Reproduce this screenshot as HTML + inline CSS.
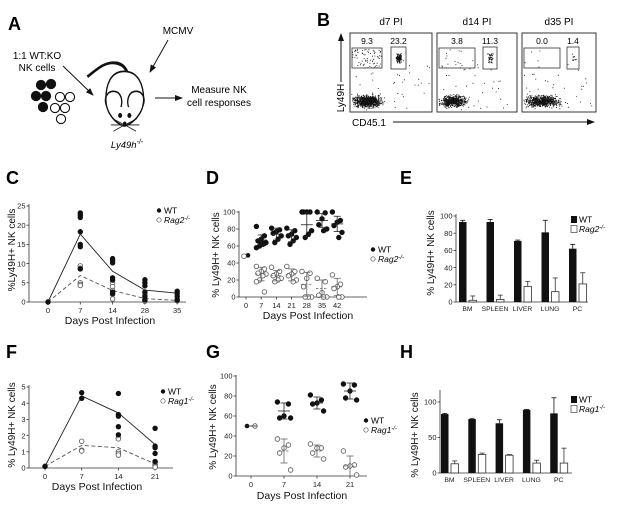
<!DOCTYPE html>
<html><head><meta charset="utf-8"><style>
html,body{margin:0;padding:0;background:#fff;}
svg{display:block;font-family:"Liberation Sans",Arial,sans-serif;}
</style></head><body>
<svg id="fig" width="617" height="511" viewBox="0 0 617 511" xmlns="http://www.w3.org/2000/svg">
<defs><marker id="ah" markerWidth="8" markerHeight="8" refX="7" refY="4" orient="auto" markerUnits="userSpaceOnUse"><path d="M0,1 L8,4 L0,7 Z" fill="#111"/></marker></defs>
<!-- Panel A -->
<g>
<text x="8" y="30" font-size="18" font-weight="bold">A</text>
<text x="178" y="34" font-size="10" text-anchor="middle">MCMV</text>
<line x1="168" y1="40" x2="150" y2="72" stroke="#111" stroke-width="1" marker-end="url(#ah)"/>
<text x="37" y="59" font-size="10" text-anchor="middle">1:1 WT:KO</text>
<text x="37" y="71" font-size="10" text-anchor="middle">NK cells</text>
<line x1="63" y1="66" x2="93" y2="95" stroke="#111" stroke-width="1" marker-end="url(#ah)"/>
<g stroke="#111" stroke-width="1.1">
<circle cx="41" cy="85" r="4.6" fill="#111"/><circle cx="51" cy="84" r="4.6" fill="#111"/><circle cx="36" cy="96" r="4.6" fill="#111"/><circle cx="46" cy="96" r="4.6" fill="#111"/><circle cx="43" cy="107" r="4.6" fill="#111"/>
<circle cx="60" cy="97" r="4.6" fill="#fff"/><circle cx="70" cy="97" r="4.6" fill="#fff"/><circle cx="55" cy="108" r="4.6" fill="#fff"/><circle cx="65" cy="108" r="4.6" fill="#fff"/><circle cx="61" cy="119" r="4.6" fill="#fff"/>
</g>
<g fill="none" stroke="#111" stroke-width="1.6" transform="matrix(0.84,0,0,1.05,0,0)">
<path d="M104,73 C115,66 125,58 138,60 C146,61 150,65 152,70" stroke-width="3"/>
<path d="M104,71 C115,64 125,57 138,58" stroke="#fff" stroke-width="0.8"/>
<path d="M148,68 C132,68 126,80 126,95 C126,108 138,118 148,120 C158,118 171,108 171,95 C171,80 164,68 148,68 Z" fill="#fff"/>
<path d="M127,101 C122,92 130,84 140,88 C145,91 146,97 144,102"/>
<path d="M170,101 C175,92 167,84 157,88 C152,91 151,97 153,102"/>
<circle cx="143" cy="110" r="1.6" fill="#111"/><circle cx="154" cy="110" r="1.6" fill="#111"/>
<circle cx="148.5" cy="118" r="1.5" fill="#111"/>
<path d="M146,118 L134,113 M146,119 L132,119 M146,120 L135,125 M151,118 L163,113 M151,119 L166,119 M151,120 L162,125" stroke-width="0.8"/>
</g>
<text x="127" y="148" font-size="9.5" font-style="italic" text-anchor="middle">Ly49h<tspan font-size="7" dy="-4">-/-</tspan></text>
<line x1="155" y1="98" x2="182" y2="98" stroke="#111" stroke-width="1" marker-end="url(#ah)"/>
<text x="219" y="93" font-size="10" text-anchor="middle">Measure NK</text>
<text x="219" y="106" font-size="10" text-anchor="middle">cell responses</text>
</g>
<!-- Panel B -->
<g id="panelB">
<text x="317" y="26" font-size="18" font-weight="bold">B</text>
<line x1="341" y1="82" x2="341" y2="34" stroke="#111" stroke-width="1" marker-end="url(#ah)"/>
<text transform="translate(344,98) rotate(-90)" font-size="10" text-anchor="middle">Ly49H</text>
<text x="352" y="126" font-size="10">CD45.1</text>
<line x1="393" y1="122" x2="594" y2="122" stroke="#111" stroke-width="1" marker-end="url(#ah)"/>
</g>
<g id="charts"></g>
</svg>
<script>
// ---------- Panel C data ----------
const cDays = ["0","7","14","28","35"];
const cWT = [[0],[23.2,22.6,22,18.3,15,14.4,8.6],[11.3,10.8,10.2,6.3,5.7,2.6,2.2],[5.8,5,4.2,2.6,1.5,0.5],[2.8,2.2,1.5,0.5]];
const cKO = [[0],[9.4,8.8,5,4.6,4.3],[5,4,3,2,0.8],[2,1,0.5,0.2],[0.8,0.3]];
const cWTmean = [0,17.7,8,3.1,2.3];
const cKOmean = [0,6.9,3,0.9,0.4];
const cYTicks = [0,5,10,15,20,25];
// ---------- Panel D data ----------
const dDays = ["0","7","14","21","28","35","42"];
const dWT = [[49],[83,72,68,66,64,62,60,58,63,65],[81,79,77,75,72,68,64],[81,78,74,72,70,66,62],[100,100,100,100,78,74,70],[100,99,92,85,80,78],[100,90,88,84,76,70]];
const dKO = [[48],[36,33,30,28,27,25,20,18,6],[35,30,27,25,22,20,18],[36,30,27,25,20,18],[30,28,22,12,0,0,0],[22,18,5,2,0,0],[26,15,12,10,0,0]];
const dWTmean = [null,67,74,72,85,90,86];
const dWTsd = [0,6,7,7,14,8,9];
const dKOmean = [null,27,25,26,15,10,12];
const dKOsd = [0,8,6,7,14,10,10];
const dYTicks = [0,20,40,60,80,100];
// ---------- Panel E data ----------
const eTissues = ["BM","SPLEEN","LIVER","LUNG","PC"];
const eWT = [93,93,71,81,62];
const eWTerr = [2,3,1,14,5];
const eKO = [2,3,18,12,21];
const eKOerr = [5,5,6,16,13];
const eYTicks = [0,20,40,60,80,100];
// ---------- Panel F data ----------
const fDays = ["0","7","14","21"];
const fWT = [[0.1],[4.65,4.3],[4.6,3.3,3.2,2.55,2.05],[2.45,1.35,1.25,0.9,0.4]];
const fKO = [[0.1],[1.65,1.1,1.05],[1.85,1.8,1.0,0.9,0.8],[0.4,0.35,0.2,0.1,0.05]];
const fWTmean = [0.1,4.45,3.4,1.45];
const fKOmean = [0.1,1.4,1.25,0.25];
const fYTicks = [0,1,2,3,4,5];
// ---------- Panel G data ----------
const gDays = ["0","7","14","21"];
const gWT = [[50],[74,72,60,58,58],[81,76,73,72,65],[92,91,85,78,76]];
const gKO = [[50],[37,31,28,23,6],[32,28,28,23,17],[25,11,10,9,1]];
const gWTmean = [50,65,73,85];
const gWTsd = [0,8,6,8];
const gKOmean = [null,25,25,10];
const gKOsd = [0,12,6,10];
const gYTicks = [0,20,40,60,80,100];
// ---------- Panel H data ----------
const hTissues = ["BM","SPLEEN","LIVER","LUNG","PC"];
const hWT = [83,76,70,89,84];
const hWTerr = [1,0.5,5,0.5,22];
const hKO = [13,26,25,14,14];
const hKOerr = [4,2,1,4,21];
const hYTicks = [0,50,100];

const NS="http://www.w3.org/2000/svg";
const root=document.getElementById('charts');
function mk(tag,attrs,parent,txt){const e=document.createElementNS(NS,tag);for(const k in attrs)e.setAttribute(k,attrs[k]);if(txt!==undefined)e.textContent=txt;(parent||root).appendChild(e);return e;}
function scaleY(y0px,ytop,vmax){return v=>y0px-(v/vmax)*(y0px-ytop);}

function axes(g,o){
  const ya=mk('line',{x1:o.ax,y1:o.y0,x2:o.ax,y2:o.yEnd,stroke:'#333','stroke-width':0.8},g);
  
  
  o.yTicks.forEach(t=>{const y=o.sy(t);
    mk('line',{x1:o.ax-2.5,y1:y,x2:o.ax,y2:y,stroke:'#333','stroke-width':0.8},g);
    const tl=mk('text',{x:o.ax-3.5,y:y+2.7,'font-size':7.5,'text-anchor':'end',fill:'#222'},g,String(t));
    
    });
  const xa=mk('line',{x1:o.ax,y1:o.y0,x2:o.xEnd,y2:o.y0,stroke:'#333','stroke-width':0.8},g);
  
  
  o.cats.forEach((c,i)=>{const x=o.sx(i);
    if(o.xTickMarks) mk('line',{x1:x,y1:o.y0,x2:x,y2:o.y0+2.5,stroke:'#333','stroke-width':0.8},g);
    const tl=mk('text',{x:x,y:o.y0+(o.xLabOff||11),'font-size':o.xFont||7.5,'text-anchor':'middle',fill:'#222'},g,c);
    
    });
  const yt=mk('text',{transform:`translate(${o.ytx},${o.yty}) rotate(-90)`,'font-size':10,'text-anchor':'middle',fill:'#111'},g,o.yTitle);
  
  
  if(o.xTitle){const xt=mk('text',{x:o.xtx,y:o.xty,'font-size':10.5,'text-anchor':'middle',fill:'#111'},g,o.xTitle);
    
    }
}
function panelLabel(x,y,t){const e=mk('text',{x:x,y:y,'font-size':18,'font-weight':'bold'},root,t);
  
  }
function legend(g,x,y,ko,type){
  const l1=mk('g',{},g);
  
  
  const l2=mk('g',{},g);
  
  
  if(type==='bar'){mk('rect',{x:x-3,y:y-6,width:6,height:7,fill:'#111'},l1);mk('rect',{x:x-3,y:y+3.5,width:6,height:7,fill:'#fff',stroke:'#444','stroke-width':0.7},l2);}
  else{mk('circle',{cx:x,cy:y-2.5,r:2.2,fill:'#111'},l1);mk('circle',{cx:x,cy:y+7,r:2.2,fill:'#fff',stroke:'#555','stroke-width':0.7},l2);}
  mk('text',{x:x+5,y:y+0.5,'font-size':8.5},l1,'WT');
  const t=mk('text',{x:x+5,y:y+10,'font-size':8.5,'font-style':'italic'},l2,ko);
  mk('tspan',{'font-size':6,dy:-3},t,'-/-');
}
function dots(g,groups,sx,sy,filled,jit,name){
  groups.forEach((arr,i)=>arr.forEach((v,j)=>{
    const off=jit?(((j*5)%7)-3)*jit:0;
    const c=mk('circle',{cx:sx(i)+off,cy:sy(v),r:2.3,fill:filled?'#111':'#fff',stroke:filled?'#111':'#555','stroke-width':0.8},g);
    
    }));
}
function meanLine(g,means,sx,sy,dash,name){
  const pts=means.map((m,i)=>sx(i)+','+sy(m)).join(' ');
  const p=mk('polyline',{points:pts,fill:'none',stroke:dash?'#555':'#222','stroke-width':0.9,'stroke-dasharray':dash?'4,2.5':'none'},g);
  
  
}
function meanSd(g,means,sds,sx,sy,dash,name,dx){
  means.forEach((m,i)=>{if(m===null)return;const x=sx(i)+(dx||0);
    const e=mk('g',{stroke:dash?'#666':'#222','stroke-width':0.8},g);
    
    
    mk('line',{x1:x-6,y1:sy(m),x2:x+6,y2:sy(m),'stroke-dasharray':dash?'2.5,1.5':'none'},e);
    if(sds[i]>0){mk('line',{x1:x,y1:sy(m-sds[i]),x2:x,y2:sy(m+sds[i])},e);
      mk('line',{x1:x-3.5,y1:sy(m+sds[i]),x2:x+3.5,y2:sy(m+sds[i])},e);
      mk('line',{x1:x-3.5,y1:sy(m-sds[i]),x2:x+3.5,y2:sy(m-sds[i])},e);}});
}
function bars(g,wt,wte,ko,koe,sx,sy,y0,w){
  wt.forEach((v,i)=>{const x=sx(i);
    const r=mk('rect',{x:x,y:sy(v),width:w,height:y0-sy(v),fill:'#111'},g);
    
    
    mk('line',{x1:x+w/2,y1:sy(v),x2:x+w/2,y2:sy(v+wte[i]),stroke:'#111','stroke-width':0.8},g);
    mk('line',{x1:x+w/2-2.5,y1:sy(v+wte[i]),x2:x+w/2+2.5,y2:sy(v+wte[i]),stroke:'#111','stroke-width':0.8},g);
    const k=ko[i],kx=x+w+2.5;
    const r2=mk('rect',{x:kx,y:sy(k),width:w,height:y0-sy(k),fill:'#fff',stroke:'#333','stroke-width':0.8},g);
    
    
    mk('line',{x1:kx+w/2,y1:sy(k),x2:kx+w/2,y2:sy(k+koe[i]),stroke:'#333','stroke-width':0.8},g);
    mk('line',{x1:kx+w/2-2.5,y1:sy(k+koe[i]),x2:kx+w/2+2.5,y2:sy(k+koe[i]),stroke:'#333','stroke-width':0.8},g);});
}
function grp(name){const g=mk('g',{});return g;}

// Panel C
panelLabel(6,184,'C');
(function(){const g=grp('panel-c-chart');const sy=scaleY(302,206,25),sx=i=>48+i*32.3;
 axes(g,{ax:29,y0:302,yEnd:204,xEnd:186,sy,sx,cats:cDays,yTicks:cYTicks,xTickMarks:true,ytx:15,yty:250,yTitle:'%Ly49H+ NK cells',xTitle:'Days Post Infection',xtx:110,xty:324});
 meanLine(g,cWTmean,sx,sy,false,'wt-mean-line');meanLine(g,cKOmean,sx,sy,true,'ko-mean-line');
 dots(g,cKO,sx,sy,false,0,'ko-point');dots(g,cWT,sx,sy,true,0,'wt-point');
 legend(g,159,213,'Rag2','dot');})();
// Panel D
panelLabel(206,184,'D');
(function(){const g=grp('panel-d-chart');const sy=scaleY(297,212,100),sx=i=>246+i*15.2;
 axes(g,{ax:239,y0:297,yEnd:211,xEnd:367,sy,sx,cats:dDays,yTicks:dYTicks,xTickMarks:true,ytx:219,yty:255,yTitle:'% Ly49H+ NK cells',xTitle:'Days Post Infection',xtx:308,xty:319});
 dots(g,dWT.map((a,i)=>i?a:[]),sx,sy,true,1.6,'wt-point');dots(g,dKO.map((a,i)=>i?a:[]),sx,sy,false,1.6,'ko-point');
 const c0a=mk('circle',{cx:sx(0)+2,cy:sy(dWT[0][0]),r:2.3,fill:'#111'},g);
 const c0b=mk('circle',{cx:sx(0)-2,cy:sy(dKO[0][0]),r:2.3,fill:'#fff',stroke:'#555','stroke-width':0.8},g);
 meanSd(g,dWTmean,dWTsd,sx,sy,false,'wt-mean-sd');meanSd(g,dKOmean,dKOsd,sx,sy,true,'ko-mean-sd');
 legend(g,373,252,'Rag2','dot');})();
// Panel E
panelLabel(400,184,'E');
(function(){const g=grp('panel-e-chart');const sy=scaleY(302,216,100),sx=i=>459+i*27.5;
 const ssx=i=>sx(i)+8.5;
 axes(g,{ax:456,y0:302,yEnd:214,xEnd:588,sy,sx:ssx,cats:eTissues,yTicks:eYTicks,xTickMarks:false,xFont:6.8,xLabOff:9,ytx:434,yty:253,yTitle:'% Ly49H+ NK cells'});
 bars(g,eWT,eWTerr,eKO,eKOerr,sx,sy,302,7.5);
 legend(g,574,222,'Rag2','bar');})();
// Panel F
panelLabel(6,358,'F');
(function(){const g=grp('panel-f-chart');const sy=scaleY(468,387,5),sx=i=>45+i*36.7;
 axes(g,{ax:29,y0:468,yEnd:385,xEnd:173,sy,sx,cats:fDays,yTicks:fYTicks,xTickMarks:true,ytx:15,yty:425,yTitle:'% Ly49H+ NK cells',xTitle:'Days Post Infection',xtx:97,xty:490});
 meanLine(g,fWTmean,sx,sy,false,'wt-mean-line');meanLine(g,fKOmean,sx,sy,true,'ko-mean-line');
 dots(g,fKO,sx,sy,false,0,'ko-point');dots(g,fWT,sx,sy,true,0,'wt-point');
 legend(g,163,394,'Rag1','dot');})();
// Panel G
panelLabel(206,358,'G');
(function(){const g=grp('panel-g-chart');const sy=scaleY(476,376,100),sx=i=>251+i*33;
 axes(g,{ax:236,y0:476,yEnd:375,xEnd:367,sy,sx,cats:gDays,yTicks:gYTicks,xTickMarks:true,ytx:216,yty:427,yTitle:'% Ly49H+ NK cells',xTitle:'Days Post Infection',xtx:302,xty:499});
 dots(g,gWT.map((a,i)=>i?a:[]),sx,sy,true,2.2,'wt-point');dots(g,gKO.map((a,i)=>i?a:[]),sx,sy,false,2.2,'ko-point');
 const c0a=mk('circle',{cx:sx(0)-4,cy:sy(gWT[0][0]),r:2.3,fill:'#111'},g);
 const c0b=mk('circle',{cx:sx(0)+4,cy:sy(gKO[0][0]),r:2.3,fill:'#fff',stroke:'#555','stroke-width':0.8},g);
 meanSd(g,gWTmean,gWTsd,sx,sy,false,'wt-mean-sd');meanSd(g,gKOmean,gKOsd,sx,sy,true,'ko-mean-sd');
 legend(g,366,423,'Rag1','dot');})();
// Panel H
panelLabel(400,358,'H');
(function(){const g=grp('panel-h-chart');const sy=scaleY(473,402,100),sx=i=>441+i*27.3;
 const ssx=i=>sx(i)+8.5;
 axes(g,{ax:440,y0:473,yEnd:390,xEnd:572,sy,sx:ssx,cats:hTissues,yTicks:hYTicks,xTickMarks:false,xFont:6.8,xLabOff:9,ytx:418,yty:435,yTitle:'% Ly49H+ NK cells'});
 bars(g,hWT,hWTerr,hKO,hKOerr,sx,sy,473,7.5);
 legend(g,574,402,'Rag1','bar');})();

// Panel B flow plots (decorative texture)
(function(){const pb=document.getElementById('panelB');
 const boxes=[{x:350,w:82,t:'d7 PI',n1:'9.3',n2:'23.2',g1:[352,382],g2:[391,406],dl:900,d1:70,d2:140,bw:30},
              {x:437,w:80,t:'d14 PI',n1:'3.8',n2:'11.3',g1:[439,475],g2:[483,497],dl:600,d1:12,d2:50,bw:28},
              {x:522,w:74,t:'d35 PI',n1:'0.0',n2:'1.4',g1:[524,560],g2:[567,579],dl:700,d1:2,d2:12,bw:36}];
 let s=7;const rnd=()=>{s=(s*16807)%2147483647;return s/2147483647;};
 const gauss=()=>(rnd()+rnd()+rnd()-1.5)/1.5;
 boxes.forEach((b,bi)=>{const g=mk('g',{},pb);
  
  
  mk('text',{x:b.x+b.w/2,y:25,'font-size':10,'text-anchor':'middle'},g,b.t);
  mk('rect',{x:b.x,y:33,width:b.w,height:79,fill:'#fff',stroke:'#222','stroke-width':0.9},g);
  let d='';
  const pt=(x,y)=>{if(x>b.x+1&&x<b.x+b.w-1&&y>34&&y<111)d+=`M${x.toFixed(1)},${y.toFixed(1)}h0.9v0.9h-0.9z`;};
  for(let i=0;i<b.dl;i++)pt(b.x+2+b.bw/2+gauss()*b.bw/1.6,101+gauss()*8);
  for(let i=0;i<40;i++)pt(b.x+2+rnd()*(b.w-4),60+rnd()*50);
  for(let i=0;i<b.d1;i++)pt(b.g1[0]+rnd()*(b.g1[1]-b.g1[0]),49+rnd()*19);
  for(let i=0;i<b.d2;i++)pt((b.g2[0]+b.g2[1])/2+gauss()*4,58+gauss()*7);
  mk('path',{d:d,fill:'#111'},g);
  mk('rect',{x:b.g1[0],y:48,width:b.g1[1]-b.g1[0],height:20,fill:'none',stroke:'#333','stroke-width':0.8},g);
  mk('rect',{x:b.g2[0],y:47,width:b.g2[1]-b.g2[0],height:22,fill:'none',stroke:'#333','stroke-width':0.8},g);
  mk('text',{x:(b.g1[0]+b.g1[1])/2,y:44,'font-size':8.5,'text-anchor':'middle'},g,b.n1);
  mk('text',{x:(b.g2[0]+b.g2[1])/2,y:44,'font-size':8.5,'text-anchor':'middle'},g,b.n2);});
})();
</script>
</body></html>
